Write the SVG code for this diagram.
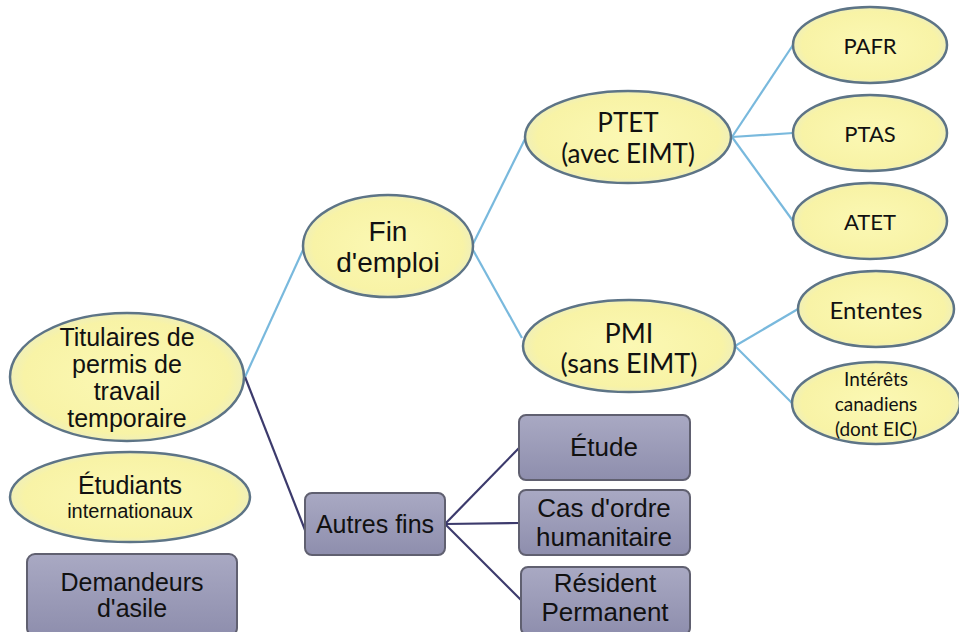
<svg xmlns="http://www.w3.org/2000/svg" width="959" height="632" viewBox="0 0 959 632">
<defs>
<radialGradient id="yg" cx="0.5" cy="0.5" r="0.55">
<stop offset="0" stop-color="#fbf8b4"/><stop offset="0.8" stop-color="#f8f3a6"/><stop offset="1" stop-color="#e9ecc8"/>
</radialGradient>
<linearGradient id="pg" x1="0" y1="0" x2="0" y2="1">
<stop offset="0" stop-color="#a9a9c3"/><stop offset="1" stop-color="#8e8ead"/>
</linearGradient>
<style>
.el{fill:url(#yg);stroke:#5d7486;stroke-width:2.5}
.bx{fill:url(#pg);stroke:#606070;stroke-width:2}
.lb{stroke:#79b9dd;stroke-width:2.2;fill:none}
.dk{stroke:#3c3a6c;stroke-width:2.2;fill:none}
.a{font-family:"Liberation Sans",Arial,sans-serif;fill:#111;text-anchor:middle;dominant-baseline:central}
.c{font-family:Lato,"Open Sans",sans-serif;fill:#111;text-anchor:middle;dominant-baseline:central}
</style>
</defs>
<g id="connectors">
<line class="lb" x1="245" y1="377" x2="303" y2="250"/>
<line class="lb" x1="473" y1="244" x2="526" y2="137"/>
<line class="lb" x1="473" y1="250" x2="522" y2="338"/>
<line class="lb" x1="732" y1="137" x2="793" y2="45"/>
<line class="lb" x1="732" y1="137" x2="793" y2="133"/>
<line class="lb" x1="732" y1="137" x2="793" y2="221"/>
<line class="lb" x1="735" y1="346" x2="798" y2="309"/>
<line class="lb" x1="735" y1="346" x2="792" y2="403"/>
<line class="dk" x1="245" y1="377" x2="305" y2="530"/>
<line class="dk" x1="445" y1="524" x2="519" y2="448"/>
<line class="dk" x1="445" y1="524" x2="519" y2="523"/>
<line class="dk" x1="445" y1="524" x2="521" y2="600"/>
</g>
<g id="titulaires"><ellipse class="el" cx="127" cy="377" rx="117" ry="64"/>
<text class="a" font-size="25" x="127" y="337">Titulaires de</text>
<text class="a" font-size="25" x="127" y="364">permis de</text>
<text class="a" font-size="25" x="127" y="391">travail</text>
<text class="a" font-size="25" x="127" y="418">temporaire</text></g>
<g id="etudiants"><ellipse class="el" cx="130" cy="497" rx="120" ry="45"/>
<text class="a" font-size="25" x="130" y="485">Étudiants</text>
<text class="a" font-size="20" x="130" y="511">internationaux</text></g>
<g id="demandeurs"><rect class="bx" x="27" y="554" width="210" height="82" rx="8"/>
<text class="a" font-size="25" x="132" y="582">Demandeurs</text>
<text class="a" font-size="25" x="132" y="608">d'asile</text></g>
<g id="fin"><ellipse class="el" cx="388" cy="246" rx="85" ry="51"/>
<text class="a" font-size="28" x="388" y="231">Fin</text>
<text class="a" font-size="28" x="388" y="262">d'emploi</text></g>
<g id="ptet"><ellipse class="el" cx="628" cy="137" rx="103" ry="46"/>
<text class="c" font-size="26" x="628" y="122">PTET</text>
<text class="c" font-size="26" x="628" y="153">(avec EIMT)</text></g>
<g id="pmi"><ellipse class="el" cx="629" cy="346" rx="106" ry="46"/>
<text class="c" font-size="27" x="629" y="332">PMI</text>
<text class="c" font-size="27" x="629" y="362">(sans EIMT)</text></g>
<g id="pafr"><ellipse class="el" cx="870" cy="45" rx="77" ry="38"/>
<text class="c" font-size="22" x="870" y="45">PAFR</text></g>
<g id="ptas"><ellipse class="el" cx="870" cy="133" rx="77" ry="38"/>
<text class="c" font-size="22" x="870" y="133">PTAS</text></g>
<g id="atet"><ellipse class="el" cx="870" cy="221" rx="77" ry="38"/>
<text class="c" font-size="22" x="870" y="221">ATET</text></g>
<g id="ententes"><ellipse class="el" cx="876" cy="309" rx="78" ry="38"/>
<text class="c" font-size="24" x="876" y="309">Ententes</text></g>
<g id="interets"><ellipse class="el" cx="876" cy="403" rx="84" ry="41"/>
<text class="c" font-size="19" x="876" y="378">Intérêts</text>
<text class="c" font-size="19" x="876" y="403">canadiens</text>
<text class="c" font-size="19" x="876" y="428">(dont EIC)</text></g>
<g id="autres"><rect class="bx" x="305" y="493" width="140" height="62" rx="7"/>
<text class="a" font-size="25" x="375" y="524">Autres fins</text></g>
<g id="etude"><rect class="bx" x="519" y="415" width="171" height="65" rx="7"/>
<text class="a" font-size="26" x="604" y="447">Étude</text></g>
<g id="cas"><rect class="bx" x="519" y="490" width="171" height="65" rx="7"/>
<text class="a" font-size="26" x="604" y="508">Cas d'ordre</text>
<text class="a" font-size="26" x="604" y="537">humanitaire</text></g>
<g id="resident"><rect class="bx" x="521" y="567" width="169" height="68" rx="7"/>
<text class="a" font-size="26" x="605" y="583">Résident</text>
<text class="a" font-size="26" x="605" y="612">Permanent</text></g>
</svg>
